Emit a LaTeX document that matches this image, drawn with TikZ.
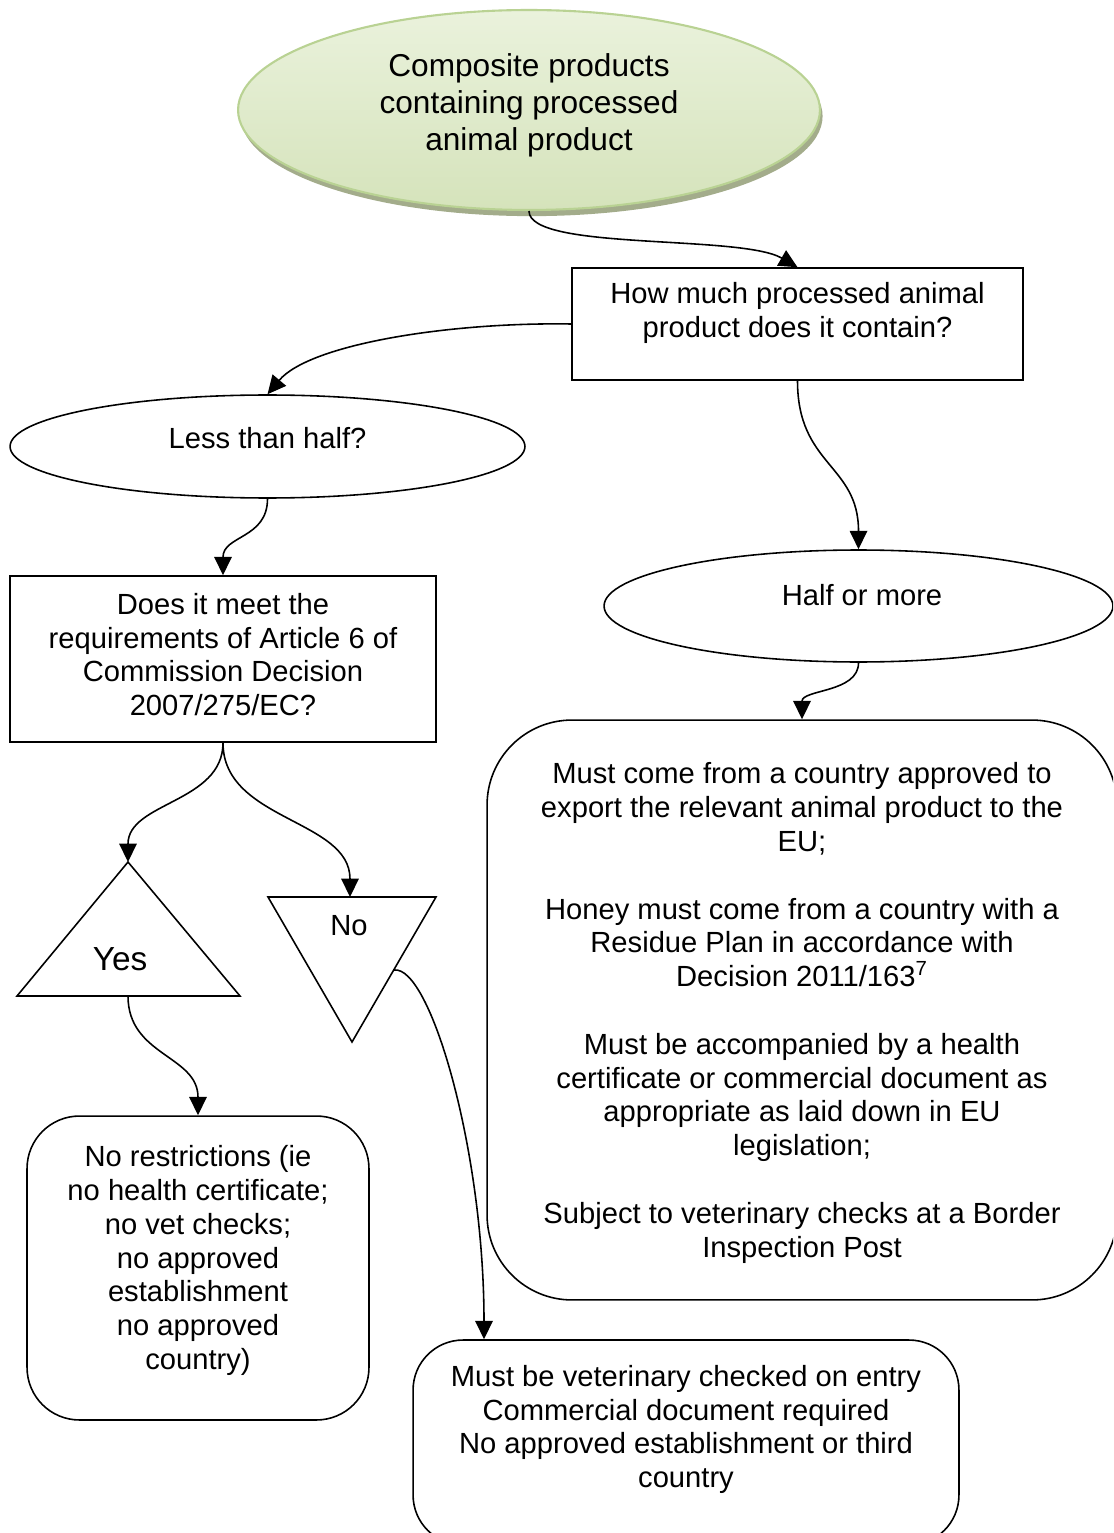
\documentclass[tikz,border=0pt]{standalone}
\usepackage{fontspec}
\setmainfont{Liberation Sans}
\usetikzlibrary{shapes.geometric,arrows.meta,shadows}
\begin{document}
\begin{tikzpicture}[x=0.02cm,y=-0.02cm,
  every node/.style={font=\fontsize{16.6}{19.2}\selectfont,align=center,inner sep=0pt},
  box/.style={draw,line width=0.9pt},
  oval/.style={draw,ellipse,line width=0.9pt},
  link/.style={line width=0.9pt,-{Triangle[length=10.5pt,width=10pt]}}]
  \definecolor{leafhi}{HTML}{EAF2DC}
  \definecolor{leaflo}{HTML}{D5E3BB}
  \definecolor{leafrim}{HTML}{B9D293}
  \definecolor{leafshade}{HTML}{A3AC8B}
  \useasboundingbox (0,0) rectangle (1113,1533);
  \clip (0,0) rectangle (1113,1533);
  \node[oval,draw=leafrim,line width=1.2pt,top color=leafhi,bottom color=leaflo,
    drop shadow={shadow xshift=1.5pt,shadow yshift=-3.5pt,fill=leafshade,opacity=1},
    minimum width=11.64cm,minimum height=4cm] (comp) at (529,110) {};
  \node[font=\fontsize{18}{21}\selectfont] (comptxt) at (529,105) {Composite products\\containing processed\\animal product};
  \node[box,minimum width=9.02cm,minimum height=2.24cm] (how) at (797.5,324) {};
  \node (howtxt) at (797.5,313) {How much processed animal\\product does it contain?};
  \node[oval,minimum width=10.3cm,minimum height=2.06cm] (less) at (267.5,446.5) {};
  \node (lesstxt) at (267.5,438) {Less than half?};
  \node[oval,minimum width=10.18cm,minimum height=2.24cm] (half) at (858.5,606) {};
  \node (halftxt) at (862,595) {Half or more};
  \node[box,minimum width=8.52cm,minimum height=3.32cm] (meet) at (223,659) {};
  \node (meettxt) at (223,654.5) {Does it meet the\\requirements of Article 6 of\\Commission Decision\\2007/275/EC?};
  \node[box,rounded corners=1.7cm,minimum width=12.6cm,minimum height=11.6cm] (must) at (802,1010) {};
  \node (musttxt) at (802,1013) {Must come from a country approved to\\export the relevant animal product to the\\EU;\\[19.4pt]
    Honey must come from a country with a\\Residue Plan in accordance with\\Decision 2011/163\textsuperscript{7}\\[19.4pt]
    Must be accompanied by a health\\certificate or commercial document as\\appropriate as laid down in EU\\legislation;\\[19.4pt]
    Subject to veterinary checks at a Border\\Inspection Post};
  \draw[line width=0.9pt] (17,996) -- (128,862) coordinate (yestop) -- (240,996) -- cycle;
  \coordinate (yesbase) at (128,996);
  \node[font=\fontsize{19}{22}\selectfont] (yes) at (120,959) {Yes};
  \draw[line width=0.9pt] (268,897) -- (436,897) -- (352,1042) -- cycle;
  \coordinate (notop) at (350,897);
  \coordinate (noside) at (394,970);
  \node (no) at (349,926) {No};
  \node[box,rounded corners=1.05cm,minimum width=6.84cm,minimum height=6.08cm] (free) at (198,1268) {};
  \node (freetxt) at (198,1260.5) {No restrictions (ie\\no health certificate;\\no vet checks;\\no approved\\establishment\\no approved\\country)};
  \node[box,rounded corners=1cm,minimum width=10.92cm,minimum height=4.1cm] (check) at (686,1442.5) {};
  \node (checktxt) at (686,1429.5) {Must be veterinary checked on entry\\Commercial document required\\No approved establishment or third\\country};
  \draw[link] (comp.south) .. controls +(0,40) and +(-57,-33) .. (how.north);
  \draw[link] (how.west) .. controls +(-122,-2) and +(42,-50) .. (less.north);
  \draw[link] (how.south) .. controls +(0,85) and +(0,-85) .. (half.north);
  \draw[link] (less.south) .. controls +(0,40) and +(0,-40) .. (meet.north);
  \draw[link] (half.south) .. controls +(0,30) and +(0,-30) .. (must.north);
  \draw[link] (meet.south) .. controls +(0,60) and +(0,-60) .. (yestop);
  \draw[link] (meet.south) .. controls +(0,78) and +(0,-78) .. (notop);
  \draw[link] (yesbase) .. controls +(0,60) and +(0,-60) .. (free.north);
  \draw[link] (noside) .. controls +(36,-5) and +(0,-190) .. (484,0 |- check.north);
\end{tikzpicture}
\end{document}
